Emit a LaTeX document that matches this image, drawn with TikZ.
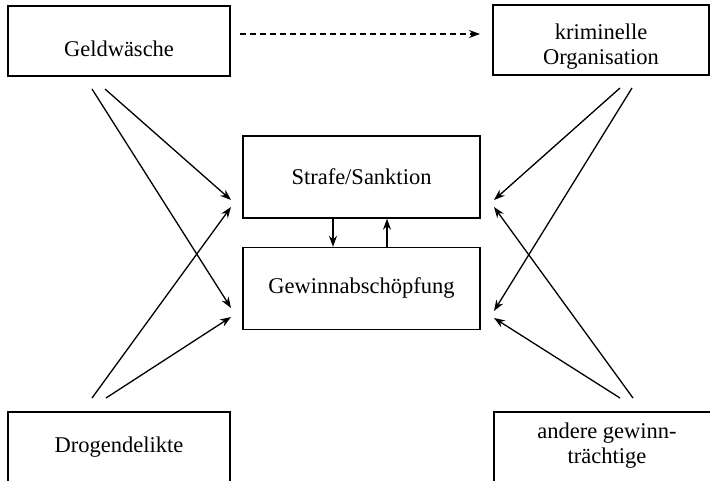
\documentclass[tikz,border=0pt]{standalone}
\usepackage{fontspec}
\setmainfont{Liberation Serif}
\usetikzlibrary{arrows.meta}
\begin{document}
\begin{tikzpicture}[x=1pt,y=1pt,
  boxline/.style={draw=black,line width=1.4pt},
  cbox/.style={boxline,minimum width=237pt,minimum height=82pt,inner sep=0pt,font=\fontsize{22.5}{25}\selectfont},
  lbl/.style={font=\fontsize{22.5}{25}\selectfont,align=center,anchor=base,inner sep=0pt},
  conn/.style={line width=1.3pt,-{Stealth[length=11pt,width=8pt]}},
  dconn/.style={line width=1.3pt,dash pattern=on 6pt off 4pt,-{Stealth[length=11pt,width=8pt]}}]
\useasboundingbox (0,0) rectangle (710,-481);
\clip (0,0) rectangle (710,-481);
% outer boxes
\draw[boxline] (8,-6) rectangle (230,-76);
\node[lbl] (geld) at (119,-57) {Geldw\"asche};
\draw[boxline] (493,-5) rectangle (709,-75);
\node[lbl] (krim) at (601,-65) {kriminelle\\Organisation};
\draw[boxline] (8,-412) rectangle (230,-540);
\node[lbl] (drog) at (119,-452) {Drogendelikte};
\draw[boxline] (494,-412) rectangle (740,-540);
\node[lbl] (andr) at (607,-463) {andere gewinn-\\tr\"achtige};
% centre boxes
\node[cbox] (straf) at (361.5,-177) {Strafe/Sanktion};
\node[cbox] (gewinn) at (361.5,-288.5) {Gewinnabsch\"opfung};
% coordinates
\coordinate (g1) at (92,-89);  \coordinate (g2) at (105,-89);
\coordinate (d1) at (92,-398); \coordinate (d2) at (106,-398);
\coordinate (k1) at (620,-88); \coordinate (k2) at (632,-88);
\coordinate (a1) at (620,-398); \coordinate (a2) at (633,-398);
\coordinate (sl1) at (231,-200); \coordinate (sl2) at (231,-207);
\coordinate (gl1) at (231,-308); \coordinate (gl2) at (231,-317);
\coordinate (sr1) at (494,-200); \coordinate (sr2) at (494,-207);
\coordinate (gr1) at (494,-311); \coordinate (gr2) at (494,-318);
\coordinate (ds) at (240,-34); \coordinate (de) at (480,-34);
% connectors
\draw[dconn] (ds) -- (de);
\draw[conn] (g2) -- (sl1);
\draw[conn] (g1) -- (gl1);
\draw[conn] (d1) -- (sl2);
\draw[conn] (d2) -- (gl2);
\draw[conn] (k1) -- (sr1);
\draw[conn] (k2) -- (gr1);
\draw[conn] (a2) -- (sr2);
\draw[conn] (a1) -- (gr2);
\draw[conn] (straf.south -| 333,0) -- (gewinn.north -| 333,0);
\draw[conn] (gewinn.north -| 387,0) -- (straf.south -| 387,0);
\end{tikzpicture}
\end{document}
